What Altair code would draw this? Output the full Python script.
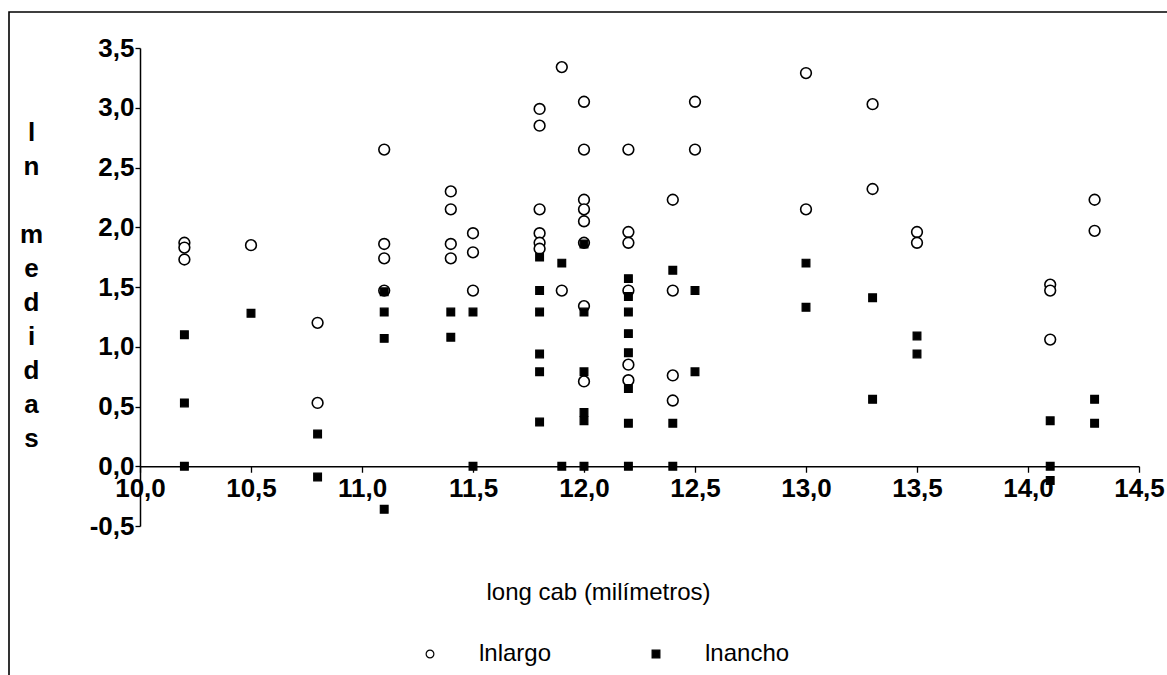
import altair as alt
import pandas as pd

# ---- data ----
series_names = ["lnlargo", "lnancho"]

largo_x = [10.2, 10.2, 10.2,
           10.5,
           10.8, 10.8,
           11.1, 11.1, 11.1, 11.1,
           11.4, 11.4, 11.4, 11.4,
           11.5, 11.5, 11.5,
           11.8, 11.8, 11.8, 11.8, 11.8, 11.8,
           11.9, 11.9,
           12.0, 12.0, 12.0, 12.0, 12.0, 12.0, 12.0, 12.0,
           12.2, 12.2, 12.2, 12.2, 12.2, 12.2,
           12.4, 12.4, 12.4, 12.4,
           12.5, 12.5,
           13.0, 13.0,
           13.3, 13.3,
           13.5, 13.5,
           14.1, 14.1, 14.1,
           14.3, 14.3]
largo_y = [1.87, 1.83, 1.73,
           1.85,
           1.20, 0.53,
           2.65, 1.86, 1.74, 1.47,
           2.30, 2.15, 1.86, 1.74,
           1.95, 1.79, 1.47,
           2.99, 2.85, 2.15, 1.95, 1.87, 1.82,
           3.34, 1.47,
           3.05, 2.65, 2.23, 2.15, 2.05, 1.87, 1.34, 0.71,
           2.65, 1.96, 1.87, 1.47, 0.85, 0.72,
           2.23, 1.47, 0.76, 0.55,
           3.05, 2.65,
           3.29, 2.15,
           3.03, 2.32,
           1.96, 1.87,
           1.52, 1.47, 1.06,
           2.23, 1.97]

ancho_x = [10.2, 10.2, 10.2,
           10.5,
           10.8, 10.8,
           11.1, 11.1, 11.1, 11.1,
           11.4, 11.4,
           11.5, 11.5,
           11.8, 11.8, 11.8, 11.8, 11.8, 11.8,
           11.9, 11.9,
           12.0, 12.0, 12.0, 12.0, 12.0, 12.0,
           12.2, 12.2, 12.2, 12.2, 12.2, 12.2, 12.2, 12.2,
           12.4, 12.4, 12.4,
           12.5, 12.5,
           13.0, 13.0,
           13.3, 13.3,
           13.5, 13.5,
           14.1, 14.1, 14.1,
           14.3, 14.3]
ancho_y = [1.10, 0.53, 0.00,
           1.28,
           0.27, -0.09,
           1.46, 1.29, 1.07, -0.36,
           1.29, 1.08,
           1.29, 0.00,
           1.75, 1.47, 1.29, 0.94, 0.79, 0.37,
           1.70, 0.00,
           1.86, 1.29, 0.79, 0.45, 0.38, 0.00,
           1.57, 1.42, 1.29, 1.11, 0.95, 0.65, 0.36, 0.00,
           1.64, 0.36, 0.00,
           1.47, 0.79,
           1.70, 1.33,
           1.41, 0.56,
           1.09, 0.94,
           0.38, 0.00, -0.12,
           0.56, 0.36]

x_ticks = [10.0, 10.5, 11.0, 11.5, 12.0, 12.5, 13.0, 13.5, 14.0, 14.5]
y_ticks = [-0.5, 0.0, 0.5, 1.0, 1.5, 2.0, 2.5, 3.0, 3.5]

x_title = "long cab (milímetros)"
y_title = ["l", "n", "\u2800", "m", "e", "d", "i", "d", "a", "s"]

df_largo = pd.DataFrame({"x": largo_x, "y": largo_y, "serie": series_names[0]})
df_ancho = pd.DataFrame({"x": ancho_x, "y": ancho_y, "serie": series_names[1]})

FONT = "Liberation Sans"
fmt = "replace(replace(format(datum.value, '.1f'), '.', ','), '\u2212', '-')"

W, H = 999, 478

legend = alt.Legend(
    title=None, orient="none", direction="horizontal",
    legendX=278, legendY=594,
    labelFont=FONT, labelFontSize=24, labelColor="black",
    labelOffset=37, columnPadding=92,
    symbolSize=60, symbolStrokeColor="black", symbolStrokeWidth=1.2,
)

x_enc = alt.X("x:Q",
              scale=alt.Scale(domain=[10, 14.5], nice=False, zero=False),
              axis=alt.Axis(values=x_ticks, labelExpr=fmt, title=x_title,
                            offset=-59.75, labelFlush=False, labelOverlap=False,
                            labelPadding=3, tickSize=6,
                            titleFont=FONT, titleFontSize=24, titleFontWeight="normal",
                            titleX=458, titleY=126, titleAlign="center",
                            titleBaseline="middle"))
y_enc = alt.Y("y:Q",
              scale=alt.Scale(domain=[-0.5, 3.5], nice=False, zero=False),
              axis=alt.Axis(values=y_ticks, labelExpr=fmt, title=y_title,
                            labelPadding=1, tickSize=5, labelOverlap=False,
                            labelFlush=False,
                            titleAngle=0, titleFont=FONT, titleFontSize=26,
                            titleFontWeight="bold", titleLineHeight=34,
                            titleX=-109, titleY=84, titleAlign="center",
                            titleBaseline="middle"))
shape_enc = alt.Shape("serie:N",
                      scale=alt.Scale(domain=series_names, range=["circle", "square"]),
                      legend=legend)
fill_enc = alt.Fill("serie:N",
                    scale=alt.Scale(domain=series_names, range=["white", "black"]),
                    legend=legend)
stroke_enc = alt.Stroke("serie:N",
                        scale=alt.Scale(domain=series_names, range=["black", "black"]),
                        legend=legend)

circles = alt.Chart(df_largo).mark_point(
    filled=True, strokeWidth=1.6, opacity=1, size=115
).encode(x=x_enc, y=y_enc, shape=shape_enc, fill=fill_enc, stroke=stroke_enc)

squares = alt.Chart(df_ancho).mark_point(
    filled=True, strokeWidth=1.2, opacity=1, size=60
).encode(x=x_enc, y=y_enc, shape=shape_enc, fill=fill_enc, stroke=stroke_enc)

frame = alt.Chart(pd.DataFrame({"a": [0]})).mark_rect(
    fillOpacity=0, stroke="black", strokeWidth=1.6
).encode(
    x=alt.value(-131), x2=alt.value(1100),
    y=alt.value(-36), y2=alt.value(700),
)

chart = alt.layer(frame, circles, squares).properties(
    width=W, height=H,
    padding={"left": 140, "top": 48, "right": 28, "bottom": 149},
    autosize=alt.AutoSizeParams(type="none"),
    background="white",
).configure_view(
    strokeWidth=0
).configure_axis(
    grid=False,
    domainColor="black", domainWidth=1.5,
    tickColor="black", tickWidth=1.3,
    labelFont=FONT, labelFontSize=26, labelFontWeight="bold", labelColor="black",
    titleColor="black",
)

chart.save("out.html", embed_options={"renderer": "svg", "actions": False})
